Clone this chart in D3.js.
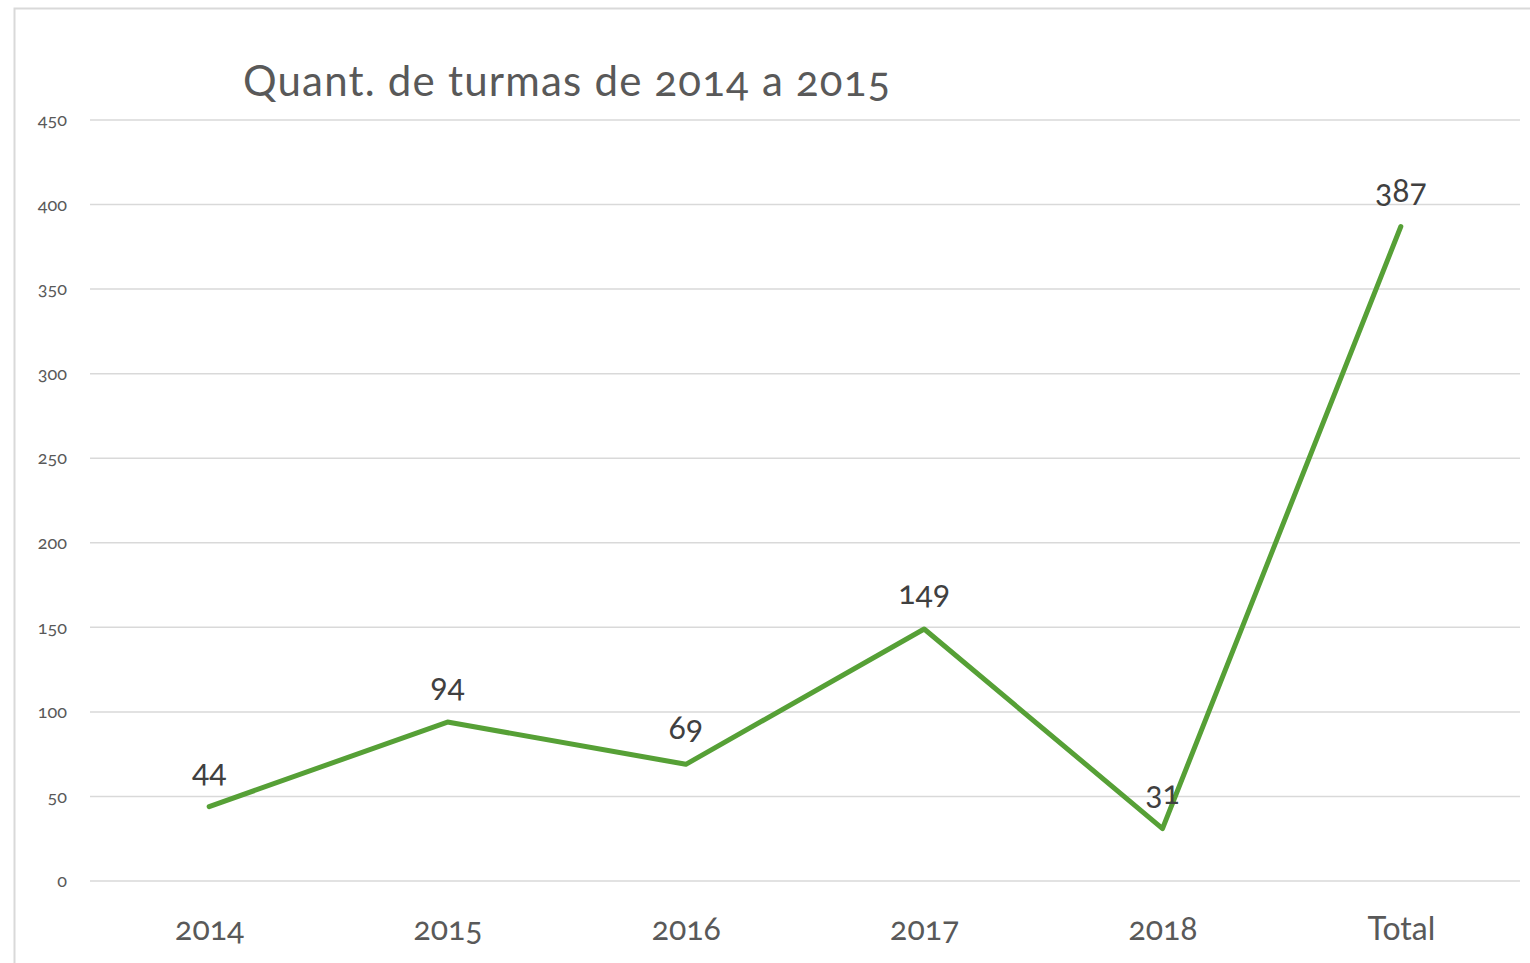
<!DOCTYPE html>
<html>
<head>
<meta charset="utf-8">
<script src="https://cdn.jsdelivr.net/npm/d3@7"></script>
<style>
  body { margin: 0; background: #fff; }
  text { font-family: Lato, "Open Sans", sans-serif; font-variant-numeric: oldstyle-nums; }
</style>
</head>
<body>
<div id="chart"></div>
<script>
var categories = ["2014", "2015", "2016", "2017", "2018", "Total"];
var values = [44, 94, 69, 149, 31, 387];
var yTicks = [0, 50, 100, 150, 200, 250, 300, 350, 400, 450];
var title = "Quant. de turmas de 2014 a 2015";

var max_w = 1530;
var max_h = 963;
var margin = {top: 120, right: 10, bottom: 82, left: 90};
var width = max_w - margin.left - margin.right;
var height = max_h - margin.top - margin.bottom;

var svg = d3.select("#chart")
  .append("svg")
    .attr("width", max_w)
    .attr("height", max_h);

// outer chart frame
svg.append("rect")
  .attr("x", 14.5).attr("y", 8.5)
  .attr("width", max_w).attr("height", max_h)
  .attr("fill", "none")
  .attr("stroke", "#d9d9d9")
  .attr("stroke-width", 2);

svg.append("text")
  .attr("x", 243).attr("y", 96)
  .attr("font-size", 42)
  .attr("letter-spacing", 1.2)
  .attr("fill", "#595959")
  .text(title);

var g = svg.append("g")
  .attr("transform", "translate(" + margin.left + "," + margin.top + ")");

var x = d3.scalePoint()
  .domain(categories)
  .range([0, width])
  .padding(0.5);

var y = d3.scaleLinear()
  .domain([0, 450])
  .range([height, 0]);

// gridlines
g.append("g")
  .selectAll("line")
  .data(yTicks)
  .join("line")
    .attr("x1", 0).attr("x2", width)
    .attr("y1", function(d){ return y(d); })
    .attr("y2", function(d){ return y(d); })
    .attr("stroke", "#d9d9d9")
    .attr("stroke-width", 1.5);

// y axis labels
var yAxis = g.append("g")
  .call(d3.axisLeft(y).tickValues(yTicks).tickSize(0).tickPadding(23));
yAxis.select(".domain").remove();
yAxis.selectAll("text")
  .attr("font-size", 18)
  .attr("fill", "#595959")
  .style("font-family", null);

// x axis labels
var xAxis = g.append("g")
  .attr("transform", "translate(0," + height + ")")
  .call(d3.axisBottom(x).tickSize(0).tickPadding(36));
xAxis.select(".domain").remove();
xAxis.selectAll("text")
  .attr("font-size", 32)
  .attr("fill", "#595959")
  .style("font-family", null);

var line = d3.line()
  .x(function(d, i){ return x(categories[i]); })
  .y(function(d){ return y(d); });

g.append("path")
  .datum(values)
  .attr("d", line)
  .attr("fill", "none")
  .attr("stroke", "#56a036")
  .attr("stroke-width", 5)
  .attr("stroke-linecap", "round")
  .attr("stroke-linejoin", "round");

g.append("g")
  .selectAll("text")
  .data(values)
  .join("text")
    .attr("x", function(d, i){ return x(categories[i]); })
    .attr("y", function(d){ return y(d) - 25; })
    .attr("text-anchor", "middle")
    .attr("font-size", 32)
    .attr("fill", "#404040")
    .text(function(d){ return d; });
</script>
</body>
</html>
